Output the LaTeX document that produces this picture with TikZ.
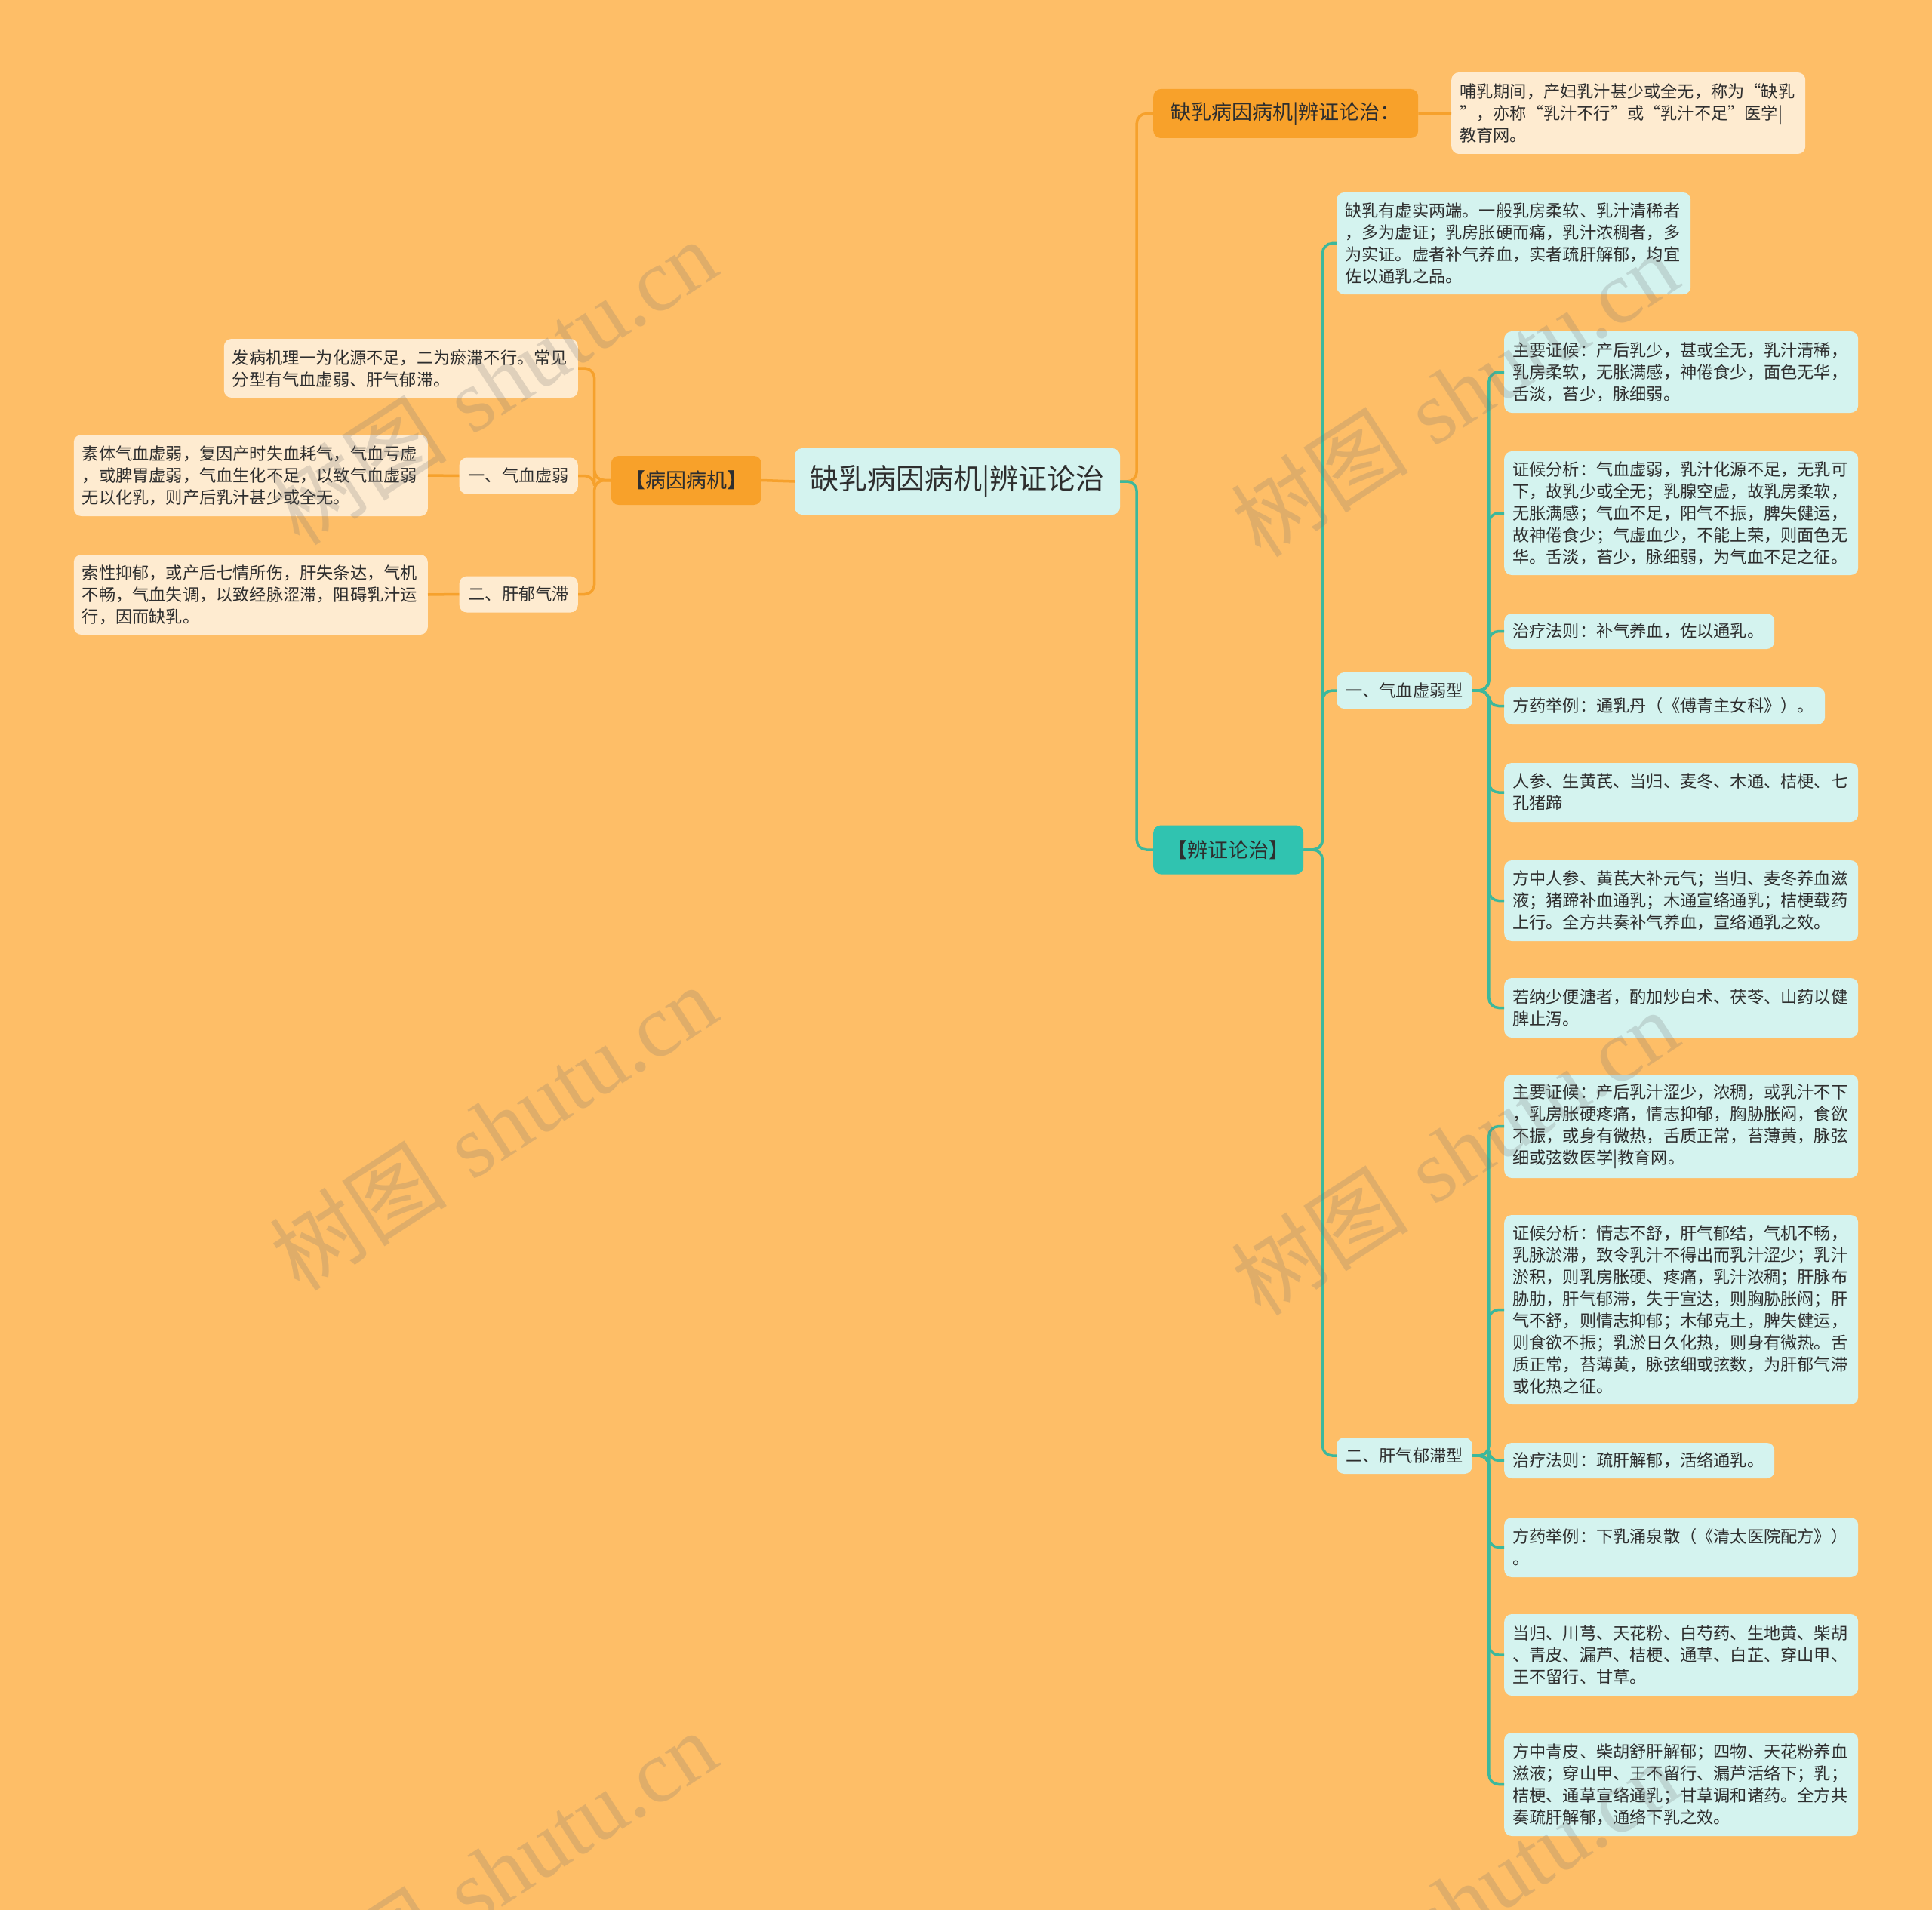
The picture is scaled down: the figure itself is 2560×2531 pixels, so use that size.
\documentclass[tikz,border=0pt]{standalone}
\usepackage{fontspec}
\newfontfamily\cjk{Noto Sans CJK SC}
\newfontfamily\wmserif{Liberation Serif}
\definecolor{bg}{HTML}{FEBE67}
\definecolor{orangeN}{HTML}{F8A12A}
\definecolor{cream}{HTML}{FEEBD0}
\definecolor{tealL}{HTML}{D4F3EF}
\definecolor{tealD}{HTML}{30C3B0}
\definecolor{oline}{HTML}{F6A12C}
\definecolor{tline}{HTML}{3CB89C}
\definecolor{txt}{HTML}{2E2E2E}
\tikzset{
  base/.style={rounded corners=10pt, inner ysep=0pt, text=txt,
    font=\cjk\fontsize{22.2pt}{29pt}\selectfont},
  leaf/.style={base, anchor=west, text width=447pt, inner xsep=11pt, align=left},
  leafT/.style={leaf, fill=tealL},
  leafO/.style={leaf, fill=cream},
  leafOR/.style={leafO, anchor=east},
  small/.style={base, inner xsep=12pt, minimum height=48pt},
  big/.style={base, minimum height=65pt, font=\cjk\fontsize{27pt}{32pt}\selectfont},
  oconn/.style={draw=oline, line width=3.5pt, rounded corners=13pt},
  tconn/.style={draw=tline, line width=3.5pt, rounded corners=13pt},
  wm/.style={rotate=33, text=black!55, text opacity=0.22,
    font=\fontsize{118pt}{120pt}\selectfont}
}
\begin{document}
\begin{tikzpicture}[x=1pt,y=-1pt]
\useasboundingbox (0,0) rectangle (2560,2531);
\fill[bg] (0,0) rectangle (2560,2531);

% root
\node[base, fill=tealL, minimum width=431pt, minimum height=88pt,
  font=\cjk\fontsize{38pt}{42pt}\selectfont] (root) at (1268.5,638) {缺乳病因病机|辨证论治};

% right upper branch
\node[big, fill=orangeN, anchor=west, minimum width=351pt] (A) at (1528,150.5) {缺乳病因病机|辨证论治：};
\node[leafO, minimum height=108pt] (A1) at (1923,150) {哺乳期间，产妇乳汁甚少或全无，称为“缺乳\\”，亦称“乳汁不行”或“乳汁不足”医学|\\教育网。};

% right lower branch
\node[big, fill=tealD, anchor=west, minimum width=199pt] (B) at (1528,1126) {【辨证论治】};
\node[leafT, minimum height=135pt] (B1) at (1771,322.5) {缺乳有虚实两端。一般乳房柔软、乳汁清稀者\\，多为虚证；乳房胀硬而痛，乳汁浓稠者，多\\为实证。虚者补气养血，实者疏肝解郁，均宜\\佐以通乳之品。};
\node[small, fill=tealL, anchor=west, minimum width=178pt] (B2) at (1771,915) {一、气血虚弱型};
\node[small, fill=tealL, anchor=west, minimum width=178pt] (B3) at (1771,1929) {二、肝气郁滞型};

\node[leafT, minimum height=108pt] (c1) at (1993,493) {主要证候：产后乳少，甚或全无，乳汁清稀，\\乳房柔软，无胀满感，神倦食少，面色无华，\\舌淡，苔少，脉细弱。};
\node[leafT, minimum height=164pt] (c2) at (1993,680) {证候分析：气血虚弱，乳汁化源不足，无乳可\\下，故乳少或全无；乳腺空虚，故乳房柔软，\\无胀满感；气血不足，阳气不振，脾失健运，\\故神倦食少；气虚血少，不能上荣，则面色无\\华。舌淡，苔少，脉细弱，为气血不足之征。};
\node[leafT, minimum height=47pt, text width=336pt] (c3) at (1993,836.5) {治疗法则：补气养血，佐以通乳。};
\node[leafT, minimum height=49pt, text width=403pt] (c4) at (1993,935.5) {方药举例：通乳丹（《傅青主女科》）。};
\node[leafT, minimum height=78pt] (c5) at (1993,1050) {人参、生黄芪、当归、麦冬、木通、桔梗、七\\孔猪蹄};
\node[leafT, minimum height=107pt] (c6) at (1993,1193.5) {方中人参、黄芪大补元气；当归、麦冬养血滋\\液；猪蹄补血通乳；木通宣络通乳；桔梗载药\\上行。全方共奏补气养血，宣络通乳之效。};
\node[leafT, minimum height=79pt] (c7) at (1993,1335.5) {若纳少便溏者，酌加炒白术、茯苓、山药以健\\脾止泻。};

\node[leafT, minimum height=137pt] (d1) at (1993,1492.5) {主要证候：产后乳汁涩少，浓稠，或乳汁不下\\，乳房胀硬疼痛，情志抑郁，胸胁胀闷，食欲\\不振，或身有微热，舌质正常，苔薄黄，脉弦\\细或弦数医学|教育网。};
\node[leafT, minimum height=251pt] (d2) at (1993,1735.5) {证候分析：情志不舒，肝气郁结，气机不畅，\\乳脉淤滞，致令乳汁不得出而乳汁涩少；乳汁\\淤积，则乳房胀硬、疼痛，乳汁浓稠；肝脉布\\胁肋，肝气郁滞，失于宣达，则胸胁胀闷；肝\\气不舒，则情志抑郁；木郁克土，脾失健运，\\则食欲不振；乳淤日久化热，则身有微热。舌\\质正常，苔薄黄，脉弦细或弦数，为肝郁气滞\\或化热之征。};
\node[leafT, minimum height=47pt, text width=336pt] (d3) at (1993,1935.5) {治疗法则：疏肝解郁，活络通乳。};
\node[leafT, minimum height=79pt] (d4) at (1993,2050.5) {方药举例：下乳涌泉散（《清太医院配方》）\\。};
\node[leafT, minimum height=108pt] (d5) at (1993,2193) {当归、川芎、天花粉、白芍药、生地黄、柴胡\\、青皮、漏芦、桔梗、通草、白芷、穿山甲、\\王不留行、甘草。};
\node[leafT, minimum height=137pt] (d6) at (1993,2364.5) {方中青皮、柴胡舒肝解郁；四物、天花粉养血\\滋液；穿山甲、王不留行、漏芦活络下；乳；\\桔梗、通草宣络通乳；甘草调和诸药。全方共\\奏疏肝解郁，通络下乳之效。};

% left branch
\node[big, fill=orangeN, anchor=east, minimum width=199pt] (C) at (1009,636.5) {【病因病机】};
\node[leafOR, minimum height=78pt] (C1) at (766,488) {发病机理一为化源不足，二为瘀滞不行。常见\\分型有气血虚弱、肝气郁滞。};
\node[small, fill=cream, anchor=east, minimum width=157pt] (C2) at (766,630.5) {一、气血虚弱};
\node[small, fill=cream, anchor=east, minimum width=157pt] (C3) at (766,787.5) {二、肝郁气滞};
\node[leafOR, minimum height=108pt] (C2a) at (567,630) {素体气血虚弱，复因产时失血耗气，气血亏虚\\，或脾胃虚弱，气血生化不足，以致气血虚弱\\无以化乳，则产后乳汁甚少或全无。};
\node[leafOR, minimum height=106pt] (C3a) at (567,788) {索性抑郁，或产后七情所伤，肝失条达，气机\\不畅，气血失调，以致经脉涩滞，阻碍乳汁运\\行，因而缺乳。};

% connectors
\begin{scope}[on background layer/.style={}]
\end{scope}
\path[oconn] (root.east) -- ++(22,0) |- (A.west);
\path[tconn] (root.east) -- ++(22,0) |- (B.west);
\path[oconn] (A.east) -- (A1.west);
\foreach \n in {B1,B2,B3} \path[tconn] (B.east) -- ++(25,0) |- (\n.west);
\foreach \n in {c1,c2,c3,c4,c5,c6,c7} \path[tconn] (B2.east) -- ++(22,0) |- (\n.west);
\foreach \n in {d1,d2,d3,d4,d5,d6} \path[tconn] (B3.east) -- ++(22,0) |- (\n.west);
\path[oconn] (root.west) -- (C.east);
\foreach \n in {C1,C2,C3} \path[oconn] (C.west) -- ++(-22,0) |- (\n.east);
\path[oconn] (C2.west) -- (C2a.east);
\path[oconn] (C3.west) -- (C3a.east);

% watermarks
\foreach \p in {(653,506),(653,1494),(653,2482),(1927,522),(1927,1527),(1927,2522)}
  \node[wm] at \p {{\cjk 树图} {\wmserif shutu.cn}};
\end{tikzpicture}
\end{document}
